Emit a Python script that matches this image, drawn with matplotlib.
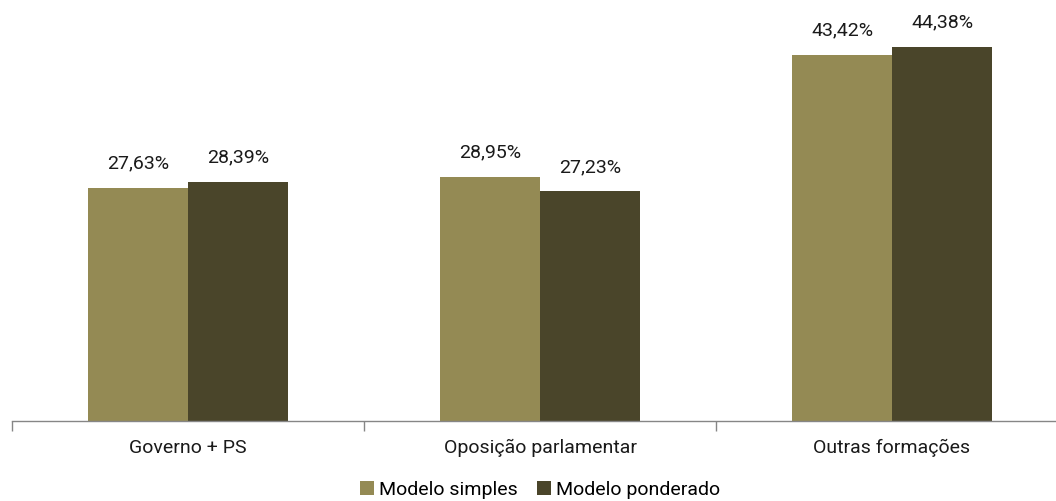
import matplotlib
matplotlib.use("Agg")
import matplotlib.pyplot as plt
import numpy as np

categories = ["Governo + PS", "Oposição parlamentar", "Outras formações"]
simples = [27.63, 28.95, 43.42]
ponderado = [28.39, 27.23, 44.38]
series_names = ["Modelo simples", "Modelo ponderado"]
colors = ["#948A54", "#4A452A"]

plt.rcParams["font.family"] = ["Roboto", "DejaVu Sans"]

W, H = 1056, 501
fig = plt.figure(figsize=(W / 100, H / 100), dpi=100)
# axes spans baseline y=421, left boundary x=12
ax = fig.add_axes([12 / W, (H - 421) / H, 1056 / W, 421 / H])

x = np.arange(len(categories))
bw = 100 / 352
b1 = ax.bar(x - bw / 2, simples, bw, color=colors[0], label=series_names[0])
b2 = ax.bar(x + bw / 2, ponderado, bw, color=colors[1], label=series_names[1])

for bars, vals in ((b1, simples), (b2, ponderado)):
    for rect, v in zip(bars, vals):
        ax.annotate(f"{v:.2f}%".replace(".", ","),
                    (rect.get_x() + rect.get_width() / 2, rect.get_height()),
                    xytext=(0, 11), textcoords="offset points",
                    ha="center", va="bottom", fontsize=14, color="#1a1a1a")

ax.set_xlim(-0.5, 2.5)
ax.set_ylim(0, 421 / (233 / 27.63))
for s in ["top", "right", "left"]:
    ax.spines[s].set_visible(False)
ax.spines["bottom"].set_color("#868686")
ax.spines["bottom"].set_linewidth(1)
ax.set_yticks([])
ax.set_xticks([-0.5, 0.5, 1.5, 2.5])
ax.set_xticklabels([])
ax.tick_params(axis="x", length=7, color="#868686", width=1)
for xi, c in zip(x, categories):
    ax.annotate(c, (xi, 0), xycoords=("data", "axes fraction"),
                xytext=(0, -13), textcoords="offset points",
                ha="center", va="top", fontsize=14, color="#1a1a1a")

fig.legend(handles=[b1, b2], loc="center", bbox_to_anchor=(540 / W, 1 - 490 / H),
           ncol=2, frameon=False, fontsize=14, handlelength=0.7, handleheight=0.7,
           handletextpad=0.25, columnspacing=1.0, borderpad=0)

fig.savefig("out.png", dpi=100)
